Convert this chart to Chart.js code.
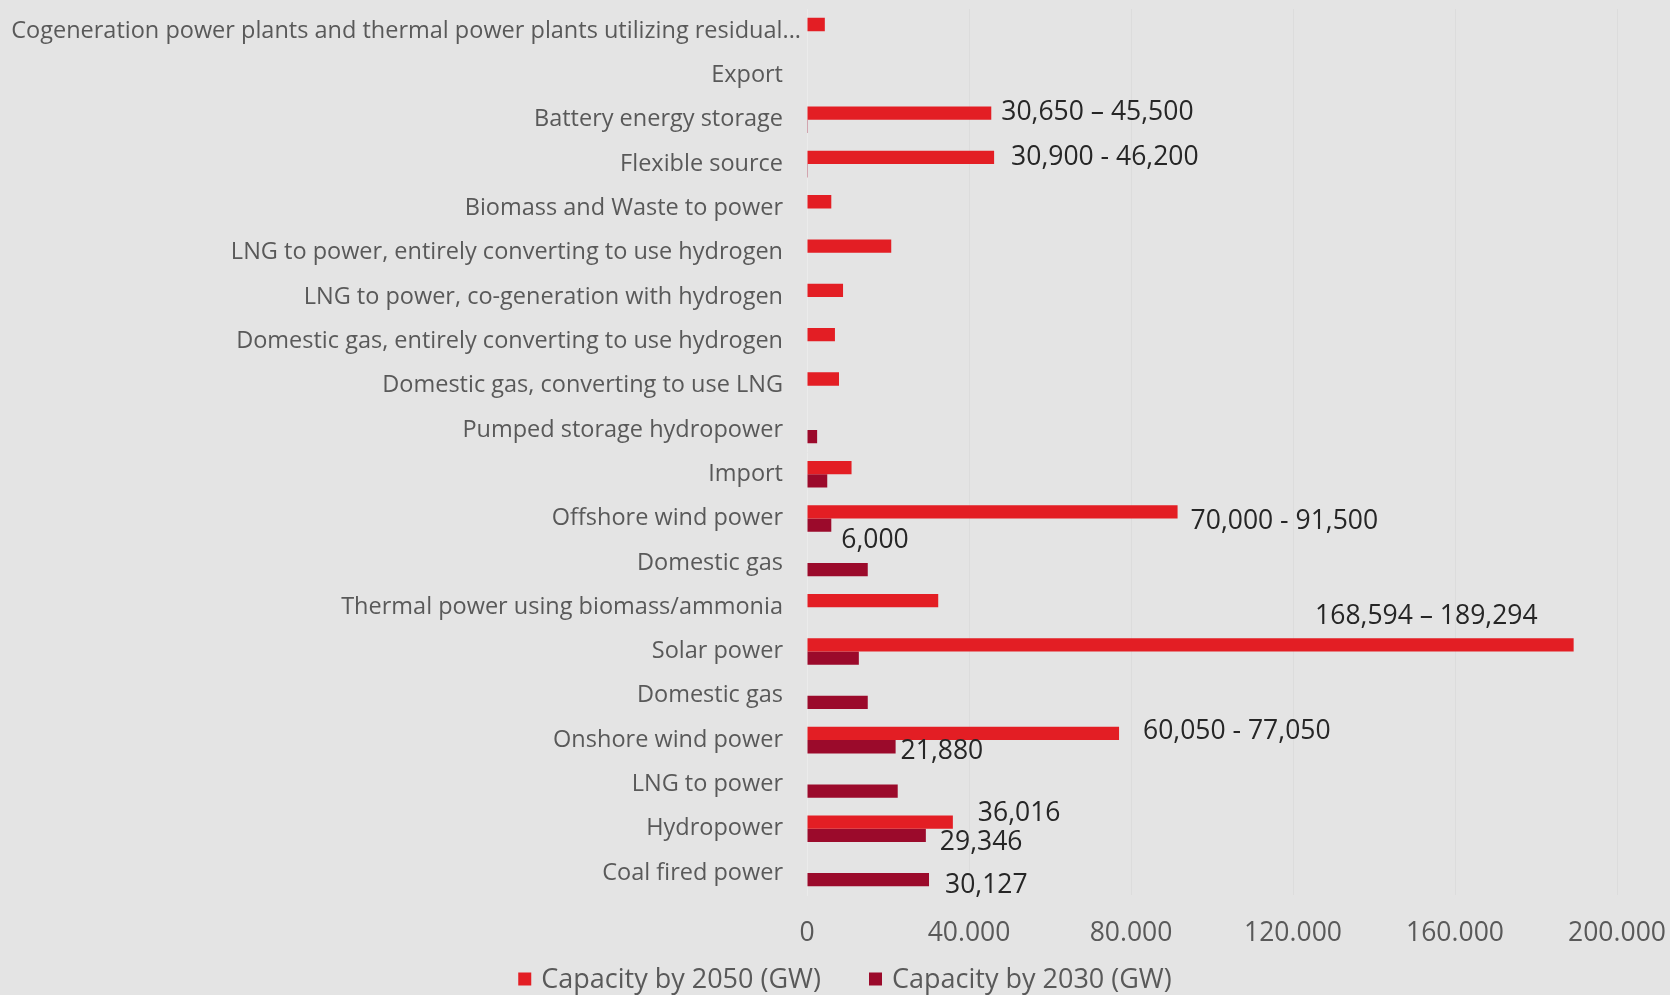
<!DOCTYPE html>
<html>
<head>
<meta charset="utf-8">
<script src="https://cdn.jsdelivr.net/npm/chart.js@4"></script>
<style>
  html, body { margin: 0; padding: 0; background: #e4e4e4; }
  #wrap { width: 1670px; height: 995px; }
</style>
</head>
<body>
<div id="wrap"><canvas id="capacity-chart"></canvas></div>
<script>
const categories = [
    'Cogeneration power plants and thermal power plants utilizing residual...',
    'Export',
    'Battery energy storage',
    'Flexible source',
    'Biomass and Waste to power',
    'LNG to power, entirely converting to use hydrogen',
    'LNG to power, co-generation with hydrogen',
    'Domestic gas, entirely converting to use hydrogen',
    'Domestic gas, converting to use LNG',
    'Pumped storage hydropower',
    'Import',
    'Offshore wind power',
    'Domestic gas',
    'Thermal power using biomass/ammonia',
    'Solar power',
    'Domestic gas',
    'Onshore wind power',
    'LNG to power',
    'Hydropower',
    'Coal fired power'
]

const capacity2050 = [4400, null, 45500, 46200, 6000, 20800, 8900, 6900, 7900, null,
    11000, 91500, null, 32400, 189294, null, 77050, null, 36016, null]
const capacity2030 = [null, null, 200, 200, null, null, null, null, null, 2500,
    5000, 6000, 15000, null, 12800, 15000, 21880, 22400, 29346, 30127]

// text written next to bars
const labels2050 = [null, null, '30,650 – 45,500', '30,900 - 46,200', null, null, null, null, null, null,
    null, '70,000 - 91,500', null, null, '168,594 – 189,294', null, '60,050 - 77,050', null, '36,016', null]
const labels2030 = [null, null, null, null, null, null, null, null, null, null,
    null, '6,000', null, null, null, null, '21,880', null, '29,346', '30,127']

const xTicks = [0, 40000, 80000, 120000, 160000, 200000]
const xTickLabels = ['0', '40.000', '80.000', '120.000', '160.000', '200.000']

// label placement: [dx, dy, align]
const labelOffsets = {
    0: { 2: [10, -1, 'left'], 3: [17, 0, 'left'], 11: [13, 10, 'left'], 14: [-36, -28, 'right'], 16: [24, -2, 'left'], 18: [25, -9, 'left'] },
    1: { 11: [10, 15, 'left'], 16: [5, 5, 'left'], 18: [14, 7, 'left'], 19: [16, 6, 'left'] }
}

const FONT = "'Open Sans', 'Noto Sans', sans-serif"
const GRAY = '#595959'
const BIG = 26.5

const barLabels = {
    id: 'barLabels',
    afterDatasetsDraw(chart) {
        const ctx = chart.ctx
        const texts = [labels2050, labels2030]
        ctx.save()
        ctx.font = BIG + 'px ' + FONT
        ctx.fillStyle = '#262626'
        ctx.textBaseline = 'middle'
        texts.forEach((list, di) => {
            const meta = chart.getDatasetMeta(di)
            list.forEach((t, i) => {
                if (!t) return
                const el = meta.data[i]
                const off = labelOffsets[di][i] || [8, 0, 'left']
                ctx.textAlign = off[2]
                ctx.fillText(t, el.x + off[0], el.y + off[1])
            })
        })
        ctx.restore()
    }
}

// the first category label is too long, Excel pushes it against the axis
const longLabel = {
    id: 'longLabel',
    afterDraw(chart) {
        const y = chart.scales.y
        const ctx = chart.ctx
        ctx.save()
        ctx.font = '23.5px ' + FONT
        ctx.fillStyle = GRAY
        ctx.textAlign = 'right'
        ctx.textBaseline = 'middle'
        ctx.fillText(categories[0], chart.chartArea.left - 6, y.getPixelForTick(0))
        ctx.restore()
    }
}

// legend drawn by hand: the built-in one pads vertically as much as horizontally
const bottomLegend = {
    id: 'bottomLegend',
    afterDraw(chart) {
        const ctx = chart.ctx
        const sets = chart.data.datasets
        ctx.save()
        ctx.font = '27px ' + FONT
        ctx.textBaseline = 'middle'
        ctx.textAlign = 'left'
        const box = 13, gap = 10, space = 48
        const widths = sets.map(d => box + gap + ctx.measureText(d.label).width)
        const total = widths.reduce((a, b) => a + b, 0) + space * (sets.length - 1)
        let x = chart.width / 2 + 10 - total / 2
        const y = 979
        sets.forEach((d, i) => {
            ctx.fillStyle = d.backgroundColor
            ctx.fillRect(x, y - box / 2, box, box)
            ctx.fillStyle = GRAY
            ctx.fillText(d.label, x + box + gap, y + 1)
            x += widths[i] + space
        })
        ctx.restore()
    }
}

window.onload = () => {
    const chart = document.querySelector('#capacity-chart')

    new Chart(chart, {
        type: 'bar',
        data: {
            labels: categories,
            datasets: [{
                label: 'Capacity by 2050 (GW)',
                data: capacity2050,
                backgroundColor: '#e31e24',
                categoryPercentage: 0.6,
                barPercentage: 1
            }, {
                label: 'Capacity by 2030 (GW)',
                data: capacity2030,
                backgroundColor: '#9b0a2b',
                categoryPercentage: 0.6,
                barPercentage: 1
            }]
        },
        plugins: [barLabels, longLabel, bottomLegend],
        options: {
            indexAxis: 'y',
            responsive: true,
            maintainAspectRatio: false,
            animation: false,
            layout: {
                padding: { top: 9, right: 0, bottom: 24, left: 0 }
            },
            scales: {
                x: {
                    min: 0,
                    max: 200000,
                    afterBuildTicks: axis => {
                        axis.ticks = xTicks.map(v => ({ value: v }))
                    },
                    afterFit: axis => { axis.paddingRight = 53 },
                    grid: { color: '#dcdcdc', drawTicks: false },
                    border: { display: false },
                    ticks: {
                        padding: 22,
                        maxRotation: 0,
                        color: GRAY,
                        font: { family: FONT, size: BIG },
                        callback: (v) => xTickLabels[xTicks.indexOf(v)]
                    }
                },
                y: {
                    afterFit: axis => { axis.width = 807; axis.paddingTop = 0; axis.paddingBottom = 0 },
                    grid: { display: false, drawTicks: false },
                    border: { display: true, color: '#ebebeb' },
                    ticks: {
                        padding: 24,
                        autoSkip: false,
                        color: c => c.index === 0 ? 'rgba(0,0,0,0)' : GRAY,
                        font: { family: FONT, size: 23.5 }
                    }
                }
            },
            plugins: {
                legend: { display: false },
                tooltip: { enabled: false }
            }
        }
    })
}
</script>
</body>
</html>
